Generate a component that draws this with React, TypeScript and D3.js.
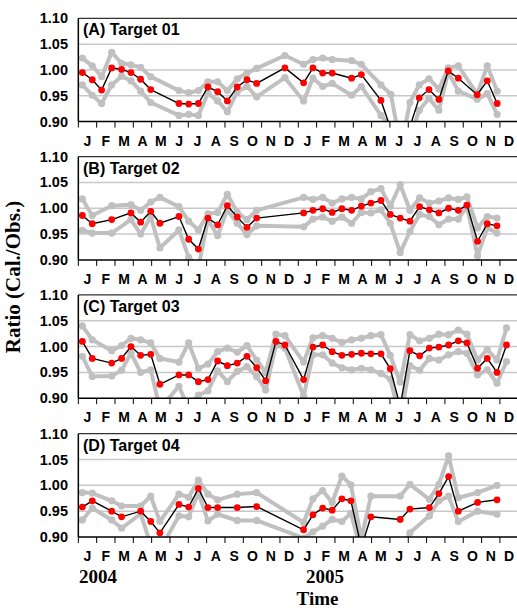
import React from "react";
import * as d3 from "d3";

const monthLabels = ["J","F","M","A","M","J","J","A","S","O","N","D","J","F","M","A","M","J","J","A","S","O","N","D"];
const yTicks = [0.9, 0.95, 1.0, 1.05, 1.1];
const titles = ["(A) Target 01", "(B) Target 02", "(C) Target 03", "(D) Target 04"];

// time = fractional month index from Jan 2004
const tA = [0.22,0.76,1.27,1.82,2.36,2.87,3.4,3.95,5.49,6.02,6.55,7.07,7.6,8.13,8.67,9.2,9.73,11.27,12.29,12.8,13.33,13.85,14.91,15.44,16.51,17.05,17.6,18.09,18.6,19.13,19.67,20.18,20.73,21.76,22.31,22.85];
const midA = [0.995,0.981,0.961,1.004,1.001,0.995,0.982,0.962,0.935,0.934,0.935,0.967,0.958,0.940,0.967,0.981,0.974,1.004,0.975,1.004,0.994,0.994,0.984,0.991,0.941,0.885,0.84,0.89,0.946,0.962,0.943,0.998,0.984,0.952,0.979,0.935];
const upA = [1.023,1.008,0.987,1.034,1.013,1.010,1.005,0.987,0.960,0.956,0.960,0.977,0.977,0.960,0.983,0.994,1.003,1.028,1.011,1.020,1.023,1.020,1.018,1.011,0.971,0.953,0.85,0.937,0.971,0.983,0.963,1.004,1.008,0.953,1.008,0.959];
const lowA = [0.971,0.951,0.935,0.971,0.988,0.979,0.959,0.937,0.912,0.914,0.912,0.955,0.940,0.919,0.958,0.968,0.948,0.985,0.940,0.984,0.968,0.974,0.951,0.968,0.912,0.89,0.83,0.87,0.922,0.945,0.922,0.996,0.959,0.9435,0.954,0.914];

const tB = [0.22,0.76,1.82,2.87,3.4,3.95,4.45,5.49,6.02,6.55,7.07,7.6,8.13,8.67,9.2,9.73,12.29,12.8,13.33,13.85,14.38,14.91,15.44,15.96,16.51,17.02,17.56,18.09,18.62,19.15,19.67,20.2,20.73,21.2,21.78,22.31,22.84];
const midB = [0.986,0.970,0.978,0.991,0.973,0.994,0.971,0.984,0.940,0.921,0.981,0.968,1.005,0.983,0.963,0.981,0.991,0.996,0.999,0.992,0.999,0.996,1.004,1.010,1.015,0.988,0.981,0.975,1.003,0.997,0.991,1.000,0.996,1.006,0.936,0.970,0.966];
const upB = [1.018,0.986,1.005,1.007,0.996,1.012,1.021,1.003,0.975,0.958,0.989,0.992,1.027,0.992,0.978,0.996,1.021,1.017,1.021,1.010,1.018,1.021,1.018,1.032,1.038,1.004,1.046,0.996,1.020,1.010,1.014,1.020,1.017,1.022,0.962,0.984,0.981];
const lowB = [0.957,0.952,0.952,0.978,0.950,0.983,0.923,0.958,0.905,0.885,0.978,0.947,0.997,0.971,0.949,0.966,0.964,0.979,0.983,0.975,0.983,0.971,0.992,0.991,0.997,0.971,0.914,0.955,0.988,0.984,0.968,0.979,0.979,1.004,0.908,0.962,0.952];

const tC = [0.22,0.76,1.82,2.36,2.87,3.4,3.95,4.45,5.49,6.02,6.55,7.07,7.6,8.13,8.67,9.2,9.73,10.22,10.78,11.27,12.29,12.8,13.33,13.85,14.38,14.91,15.44,15.96,16.51,17.02,17.56,18.09,18.62,19.15,19.67,20.2,20.73,21.2,21.78,22.31,22.84,23.36];
const midC = [1.010,0.977,0.968,0.977,1.000,0.983,0.985,0.927,0.945,0.945,0.932,0.936,0.972,0.963,0.968,0.981,0.959,0.934,1.010,1.003,0.936,0.999,1.003,0.990,0.983,0.985,0.987,0.986,0.986,0.957,0.884,0.992,0.982,0.997,0.999,1.003,1.011,1.007,0.958,0.977,0.950,1.003];
const upC = [1.040,1.013,0.992,1.002,1.016,1.013,1.007,0.977,0.970,1.007,0.958,0.966,0.990,0.997,0.989,1.002,0.974,0.950,1.024,1.021,0.970,1.017,1.021,1.016,1.008,1.013,1.016,1.021,1.023,0.983,0.931,1.023,1.011,1.016,1.024,1.023,1.032,1.024,0.974,0.994,0.974,1.036];
const lowC = [0.981,0.942,0.943,0.954,0.987,0.950,0.955,0.88,0.923,0.88,0.906,0.914,0.953,0.932,0.952,0.961,0.942,0.916,1.003,0.997,0.904,0.984,0.984,0.968,0.959,0.955,0.958,0.955,0.948,0.937,0.86,0.963,0.954,0.977,0.974,0.984,0.990,0.987,0.945,0.955,0.929,0.971];

const tD = [0.22,0.76,1.82,2.36,3.4,3.95,4.45,5.49,6.02,6.55,7.07,7.6,8.67,9.73,12.29,12.8,13.33,13.85,14.38,14.87,15.44,15.96,17.56,18.09,19.15,19.67,20.2,20.73,21.78,22.84];
const midD = [0.958,0.970,0.950,0.939,0.950,0.930,0.908,0.963,0.958,0.994,0.957,0.957,0.957,0.959,0.914,0.943,0.956,0.952,0.974,0.970,0.88,0.939,0.934,0.954,0.957,0.984,1.017,0.950,0.967,0.972];
const upD = [0.986,0.985,0.970,0.960,0.960,0.979,0.930,0.983,0.977,1.010,0.983,0.972,0.983,0.986,0.928,0.974,0.990,0.967,1.018,1.001,0.897,0.979,0.979,1.002,0.973,1.002,1.057,0.976,0.986,1.000];
const lowD = [0.933,0.956,0.933,0.917,0.945,0.885,0.875,0.941,0.939,0.986,0.931,0.944,0.932,0.932,0.898,0.910,0.921,0.934,0.930,0.946,0.87,0.86,0.87,0.908,0.941,0.970,0.979,0.930,0.950,0.944];

const panels = [
  { t: tA, mid: midA, up: upA, low: lowA },
  { t: tB, mid: midB, up: upB, low: lowB },
  { t: tC, mid: midC, up: upC, low: lowC },
  { t: tD, mid: midD, up: upD, low: lowD },
];

const W = 517, H = 608;
const X0 = 78.33, X1 = 78.33 + 24 * 18.33;
const panelTops = [18.3, 156.6, 294.9, 433.7];
const PH = 103.3;
const GRAY = "#c0c0c0";
const SANS = "'Liberation Sans', Arial, sans-serif";
const SERIF = "'Liberation Serif', 'Times New Roman', serif";

export default function App() {
  const x = d3.scaleLinear().domain([0, 24]).range([X0, X1]);
  return (
    <div style={{ position: "absolute", left: 0, top: 0, width: W, height: H, background: "#fff" }}>
      <svg width={W} height={H} style={{ display: "block" }}>
        <defs>
          {panelTops.map((top, i) => (
            <clipPath id={`clip${i}`} key={i}>
              <rect x={X0} y={top - 2} width={X1 - X0 + 5} height={PH + 2} />
            </clipPath>
          ))}
        </defs>
        {panels.map((p, i) => {
          const top = panelTops[i];
          const y = d3.scaleLinear().domain([0.9, 1.1]).range([top + PH, top]);
          const mk = (vals: number[]) => p.t.map((t, k) => [x(t), y(vals[k])] as [number, number]);
          const line = d3.line();
          const upPts = mk(p.up), lowPts = mk(p.low), midPts = mk(p.mid);
          return (
            <g key={i}>
              {yTicks.slice(1, 4).map((v) => (
                <line key={v} x1={X0} x2={X1 + 5} y1={y(v)} y2={y(v)} stroke="#c8c8c8" strokeWidth={1.5} />
              ))}
              <line x1={X0} x2={X1 + 5} y1={y(1.1)} y2={y(1.1)} stroke="#333" strokeWidth={1.3} />
              <g clipPath={`url(#clip${i})`}>
                <path d={line(upPts) || ""} fill="none" stroke={GRAY} strokeWidth={4} strokeLinejoin="round" />
                <path d={line(lowPts) || ""} fill="none" stroke={GRAY} strokeWidth={4} strokeLinejoin="round" />
                {upPts.concat(lowPts).map((pt, k) => (
                  <circle key={k} cx={pt[0]} cy={pt[1]} r={3.6} fill={GRAY} />
                ))}
                <path d={line(midPts) || ""} fill="none" stroke="#000" strokeWidth={1.4} />
                {midPts.map((pt, k) => (
                  <circle key={k} cx={pt[0]} cy={pt[1]} r={3.4} fill="#ff0000" />
                ))}
              </g>
              <line x1={X0} x2={X0} y1={top} y2={top + PH} stroke="#000" strokeWidth={1.5} />
              <line x1={X0} x2={X1 + 5} y1={top + PH} y2={top + PH} stroke="#000" strokeWidth={1.5} />
              {d3.range(0, 25).map((m) => (
                <line key={m} x1={x(m)} x2={x(m)} y1={top + PH} y2={top + PH + 6} stroke="#000" strokeWidth={1} />
              ))}
              {monthLabels.map((lab, m) => (
                <text key={m} x={x(m + 0.5)} y={top + PH + 24} textAnchor="middle" fontFamily={SANS} fontWeight="bold" fontSize={14}>
                  {lab}
                </text>
              ))}
              {yTicks.map((v) => (
                <text key={v} x={68} y={y(v) + 5} textAnchor="end" fontFamily={SANS} fontWeight="bold" fontSize={14.5}>
                  {v.toFixed(2)}
                </text>
              ))}
              <text x={83} y={top + 17} fontFamily={SANS} fontWeight="bold" fontSize={16}>
                {titles[i]}
              </text>
            </g>
          );
        })}
        <text transform="translate(20,277) rotate(-90)" textAnchor="middle" fontFamily={SERIF} fontWeight="bold" fontSize={21}>
          Ratio (Cal./Obs.)
        </text>
        <text x={79} y={583} fontFamily={SERIF} fontWeight="bold" fontSize={19}>2004</text>
        <text x={306} y={583} fontFamily={SERIF} fontWeight="bold" fontSize={19}>2005</text>
        <text x={317.5} y={605} textAnchor="middle" fontFamily={SERIF} fontWeight="bold" fontSize={19}>Time</text>
      </svg>
    </div>
  );
}
